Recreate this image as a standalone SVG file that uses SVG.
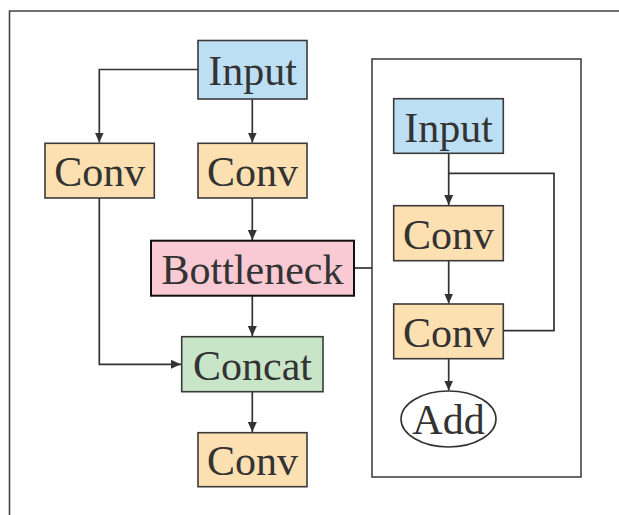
<svg xmlns="http://www.w3.org/2000/svg" width="619" height="515" viewBox="0 0 619 515">
<style>
  .box { stroke: #3a3a3a; stroke-width: 1.6; }
  .input { fill: #bddff4; }
  .conv { fill: #fde0b1; }
  .bneck { fill: #f9cad3; stroke: #111; stroke-width: 2; }
  .concat { fill: #c9e5c8; }
  .lbl { font-family: "Liberation Serif", "Times New Roman", serif; font-size: 42px; fill: #333; text-anchor: middle; }
  .edge { fill: none; stroke: #333; stroke-width: 1.7; }
  .frame { fill: none; stroke: #444; stroke-width: 1.6; }
</style>
<defs>
  <marker id="arr" viewBox="0 0 10 9" refX="10" refY="4.5" markerWidth="10" markerHeight="9" markerUnits="userSpaceOnUse" orient="auto">
    <path d="M0,0 L10,4.5 L0,9 z" fill="#333"/>
  </marker>
</defs>
<rect width="619" height="515" fill="#fff"/>
<path class="frame" d="M9.5,515 V11 H619"/>
<rect class="frame" x="372" y="59" width="209" height="418"/>

<g id="connectors">
  <path class="edge" d="M198,69.5 H99.3 V142.5" marker-end="url(#arr)"/>
  <path class="edge" d="M252.3,99 V142.5" marker-end="url(#arr)"/>
  <path class="edge" d="M252.3,198 V240" marker-end="url(#arr)"/>
  <path class="edge" d="M252.3,296 V336" marker-end="url(#arr)"/>
  <path class="edge" d="M99.3,198 V364.3 H181" marker-end="url(#arr)"/>
  <path class="edge" d="M252.3,392 V432" marker-end="url(#arr)"/>
  <path class="edge" d="M354,268 H372"/>
  <path class="edge" d="M448.7,153 V205" marker-end="url(#arr)"/>
  <path class="edge" d="M448.7,173.3 H554 V330.7 H503"/>
  <path class="edge" d="M448.7,261 V303.5" marker-end="url(#arr)"/>
  <path class="edge" d="M448.7,359 V390.5" marker-end="url(#arr)"/>
</g>

<g id="input">
  <rect class="box input" x="198" y="40.5" width="109" height="58.5"/>
  <text class="lbl" x="252.5" y="85">Input</text>
</g>
<g id="conv-left">
  <rect class="box conv" x="45" y="143.3" width="109.3" height="54.7"/>
  <text class="lbl" x="99.7" y="186">Conv</text>
</g>
<g id="conv-mid">
  <rect class="box conv" x="198" y="143.3" width="109" height="54.7"/>
  <text class="lbl" x="252.5" y="186">Conv</text>
</g>
<g id="bottleneck">
  <rect class="bneck" x="151" y="240.7" width="203" height="55"/>
  <text class="lbl" x="252.5" y="284">Bottleneck</text>
</g>
<g id="concat">
  <rect class="box concat" x="181.7" y="336.7" width="141.3" height="55"/>
  <text class="lbl" x="252.5" y="380">Concat</text>
</g>
<g id="conv-out">
  <rect class="box conv" x="198" y="432.7" width="109" height="54"/>
  <text class="lbl" x="252.5" y="475">Conv</text>
</g>
<g id="inner-input">
  <rect class="box input" x="393.7" y="98.7" width="109.6" height="54.6"/>
  <text class="lbl" x="448.5" y="142">Input</text>
</g>
<g id="inner-conv1">
  <rect class="box conv" x="393.7" y="205.7" width="109.6" height="55"/>
  <text class="lbl" x="448.5" y="249">Conv</text>
</g>
<g id="inner-conv2">
  <rect class="box conv" x="393.7" y="304" width="109.6" height="54.7"/>
  <text class="lbl" x="448.5" y="347">Conv</text>
</g>
<g id="add">
  <ellipse cx="448.5" cy="419" rx="47.5" ry="28" fill="#fff" stroke="#333" stroke-width="1.6"/>
  <text class="lbl" x="448.5" y="434">Add</text>
</g>
</svg>
